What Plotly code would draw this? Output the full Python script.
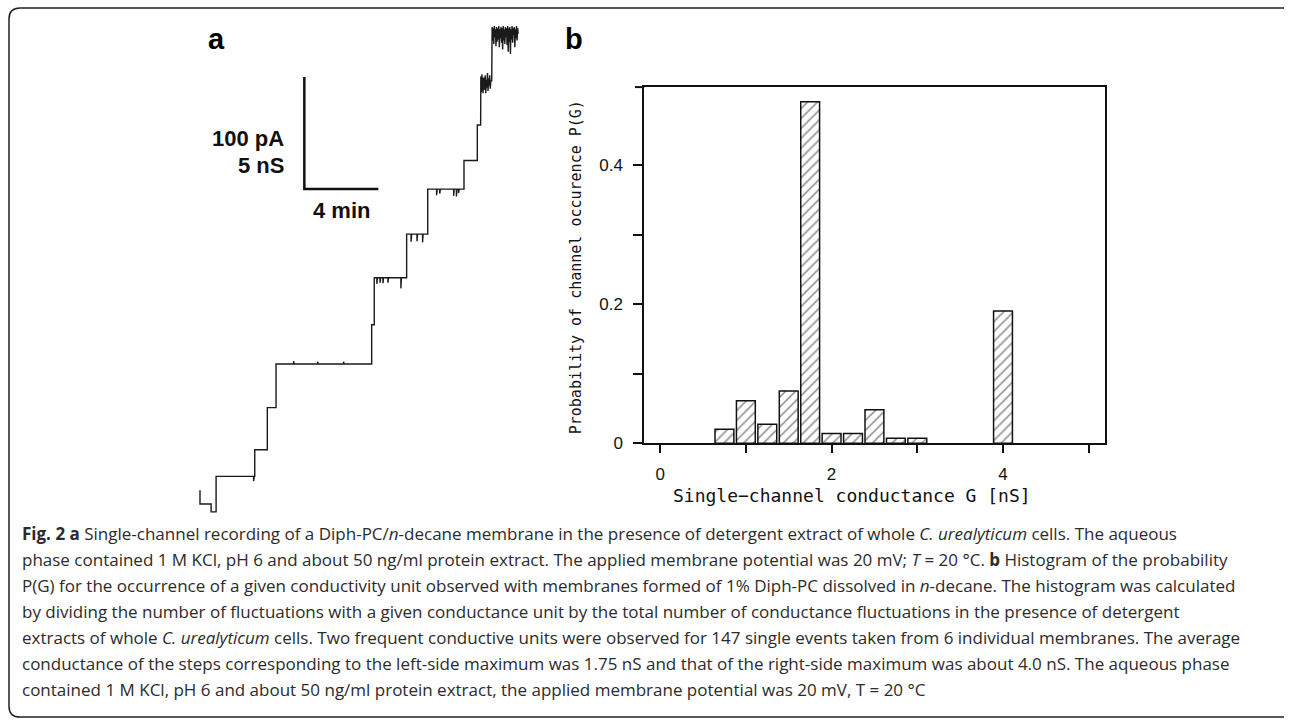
import plotly.graph_objects as go

W, H = 1290, 728

# ---------------- Panel b: histogram data ----------------
g_centers = [0.75, 1.0, 1.25, 1.5, 1.75, 2.0, 2.25, 2.5, 2.75, 3.0, 4.0]
p_values = [0.020, 0.061, 0.027, 0.075, 0.491, 0.014, 0.014, 0.048, 0.007, 0.007, 0.190]
x_tick_vals = [0, 1, 2, 3, 4, 5]
x_tick_text = ["0", "", "2", "", "4", ""]
y_tick_vals = [0, 0.1, 0.2, 0.3, 0.4]
y_tick_text = ["0", "", "0.2", "", "0.4"]

# ---------------- Panel a: single-channel recording (time in min, current in pA) ----------------
trace_min = [
    0.54, 0.54, 1.14, 1.14, 1.41, 1.41,
    3.44, 3.44, 3.47, 3.47, 3.50, 3.50, 4.18, 4.18, 4.65, 4.65,
    5.60, 5.60, 5.63, 5.63, 6.90, 6.90, 6.93, 6.93, 8.30, 8.30, 8.33, 8.33,
    9.82, 9.82, 9.96, 9.96,
    10.10, 10.10, 10.13, 10.13, 10.27, 10.27, 10.30, 10.30, 10.43, 10.43, 10.46, 10.46,
    10.70, 10.70, 10.73, 10.73, 11.40, 11.40, 11.43, 11.43,
    11.71, 11.71,
    11.95, 11.95, 11.98, 11.98, 12.27, 12.27, 12.30, 12.30, 12.57, 12.57, 12.60, 12.60,
    12.85, 12.85,
    13.33, 13.33, 13.36, 13.36, 13.50, 13.50, 13.53, 13.53, 14.25, 14.25, 14.28, 14.28,
    14.40, 14.40, 14.43, 14.43, 14.52, 14.52, 14.55, 14.55,
    14.81, 14.81, 15.53, 15.53, 15.71, 15.71,
    15.72, 15.75, 15.78, 15.81, 15.84, 15.87, 15.90, 15.93, 15.96, 15.99,
    16.02, 16.05, 16.08, 16.11, 16.14, 16.17, 16.20, 16.23, 16.26,
    16.31, 16.31,
    16.33, 16.36, 16.39, 16.42, 16.45, 16.48, 16.51, 16.54, 16.57, 16.60,
    16.63, 16.66, 16.69, 16.72, 16.75, 16.78, 16.81, 16.84, 16.87, 16.90,
    16.93, 16.96, 16.99, 17.02, 17.05, 17.08, 17.11, 17.14, 17.17, 17.20,
    17.23, 17.26, 17.29, 17.32, 17.35, 17.38, 17.41, 17.44, 17.47, 17.50,
    17.53, 17.56, 17.59, 17.62, 17.65, 17.68, 17.71, 17.74,
]
trace_pA = [
    29.0, 16.7, 16.7, 9.7, 9.7, 41.3,
    41.3, 37.0, 37.0, 41.3, 41.3, 65.1, 65.1, 102.6, 102.6, 141.6,
    141.6, 144.0, 144.0, 141.6, 141.6, 143.5, 143.5, 141.6, 141.6, 143.5, 143.5, 141.6,
    141.6, 176.5, 176.5, 218.4,
    218.4, 213.0, 213.0, 218.4, 218.4, 214.0, 214.0, 218.4, 218.4, 213.5, 213.5, 218.4,
    218.4, 214.0, 214.0, 218.4, 218.4, 209.0, 209.0, 218.4,
    218.4, 257.4,
    257.4, 250.5, 250.5, 257.4, 257.4, 251.0, 251.0, 257.4, 257.4, 250.0, 250.0, 257.4,
    257.4, 297.5,
    297.5, 292.0, 292.0, 297.5, 297.5, 293.5, 293.5, 297.5, 297.5, 291.5, 291.5, 297.5,
    297.5, 291.0, 291.0, 297.5, 297.5, 294.0, 294.0, 297.5,
    297.5, 323.0, 323.0, 354.7, 354.7, 395.0,
    398, 384, 400, 389, 383, 397, 386, 392, 399, 383,
    395, 388, 401, 385, 396, 390, 399, 387, 394,
    394, 441,
    442, 430, 441, 427, 443, 433, 440, 425, 442, 429,
    441, 431, 443, 424, 440, 432, 442, 428, 441, 422,
    443, 430, 440, 427, 442, 433, 441, 426, 443, 420,
    441, 429, 442, 418, 440, 431, 443, 428, 441, 435,
    442, 424, 440, 432, 443, 430, 441, 436,
]

# scale bar (100 pA vertical, 4 min horizontal)
scale_min = [6.18, 6.18, 10.18]
scale_pA = [397.5, 297.5, 297.5]

caption_lines = [
    "<b>Fig. 2 a</b> Single-channel recording of a Diph-PC/<i>n</i>-decane membrane in the presence of detergent extract of whole <i>C. urealyticum</i> cells. The aqueous",
    "phase contained 1 M KCl, pH 6 and about 50 ng/ml protein extract. The applied membrane potential was 20 mV; <i>T</i> = 20 °C. <b>b</b> Histogram of the probability",
    "P(G) for the occurrence of a given conductivity unit observed with membranes formed of 1% Diph-PC dissolved in <i>n</i>-decane. The histogram was calculated",
    "by dividing the number of fluctuations with a given conductance unit by the total number of conductance fluctuations in the presence of detergent",
    "extracts of whole <i>C. urealyticum</i> cells. Two frequent conductive units were observed for 147 single events taken from 6 individual membranes. The average",
    "conductance of the steps corresponding to the left-side maximum was 1.75 nS and that of the right-side maximum was about 4.0 nS. The aqueous phase",
    "contained 1 M KCl, pH 6 and about 50 ng/ml protein extract, the applied membrane potential was 20 mV, T = 20 °C",
]
caption_y = [541, 567, 594, 620, 646, 673, 699]


def fx(x):
    return x / W


def fy(y):
    return 1 - y / H


fig = go.Figure()

fig.add_trace(go.Bar(
    x=g_centers, y=p_values, width=0.22,
    marker=dict(color="white", line=dict(color="#111", width=1.5),
                pattern=dict(shape="/", fgcolor="#111", bgcolor="white", size=7, solidity=0.22)),
    xaxis="x", yaxis="y", showlegend=False, hoverinfo="skip",
))

fig.add_trace(go.Scatter(
    x=trace_min, y=trace_pA, mode="lines", line=dict(color="#1a1a1a", width=1.4),
    xaxis="x2", yaxis="y2", showlegend=False, hoverinfo="skip",
))
fig.add_trace(go.Scatter(
    x=scale_min, y=scale_pA, mode="lines", line=dict(color="#111", width=2.5),
    xaxis="x2", yaxis="y2", showlegend=False, hoverinfo="skip",
))

axis_font = dict(family="Liberation Sans, Arial, sans-serif", size=17, color="#111")

fig.update_layout(
    width=W, height=H, autosize=False,
    margin=dict(l=0, r=0, t=0, b=0),
    paper_bgcolor="white", plot_bgcolor="rgba(0,0,0,0)",
    xaxis=dict(domain=[fx(644.3), fx(1105)], range=[-0.185, 5.19],
               tickvals=x_tick_vals, ticktext=x_tick_text, ticks="outside", ticklen=8,
               tickwidth=1.5, tickcolor="#111", showline=True, linewidth=2, linecolor="#111",
               mirror=True, showgrid=False, zeroline=False, tickfont=axis_font, anchor="y",
               ticklabelstandoff=6),
    yaxis=dict(domain=[fy(449.3), fy(88.3)], range=[0, 0.512],
               tickvals=y_tick_vals, ticktext=y_tick_text, ticks="outside", ticklen=9,
               tickwidth=1.5, tickcolor="#111", showline=True, linewidth=2, linecolor="#111",
               mirror=True, showgrid=False, zeroline=False, tickfont=axis_font, anchor="x",
               ticklabelstandoff=7),
    xaxis2=dict(domain=[fx(190), fx(530)], range=[0, 340 / 18.5], visible=False,
                anchor="y2", fixedrange=True),
    yaxis2=dict(domain=[fy(530), 1], range=[0, 530 / 1.137], visible=False,
                anchor="x2", fixedrange=True),
)

ann = []
bold = "Liberation Sans, Arial, sans-serif"
ann.append(dict(text="<b>a</b>", x=fx(216), y=fy(40), xanchor="center", yanchor="middle",
                font=dict(family=bold, size=29, color="#000")))
ann.append(dict(text="<b>b</b>", x=fx(574), y=fy(40), xanchor="center", yanchor="middle",
                font=dict(family=bold, size=29, color="#000")))
ann.append(dict(text="<b>100 pA</b>", x=fx(286), y=fy(140), xanchor="right", yanchor="middle",
                font=dict(family=bold, size=22, color="#111")))
ann.append(dict(text="<b>5 nS</b>", x=fx(286), y=fy(168), xanchor="right", yanchor="middle",
                font=dict(family=bold, size=22, color="#111")))
ann.append(dict(text="<b>4 min</b>", x=fx(341), y=fy(213.5), xanchor="center", yanchor="middle",
                font=dict(family=bold, size=22, color="#111")))
mono = "DejaVu Sans Mono, monospace"
ann.append(dict(text="Single\u2212channel conductance G [nS]", x=fx(852), y=fy(502),
                xanchor="center", yanchor="middle", font=dict(family=mono, size=18, color="#111")))
ann.append(dict(text="Probability of channel occurence P(G)", x=fx(576), y=fy(271),
                xanchor="center", yanchor="middle", textangle=-90,
                font=dict(family=mono, size=15, color="#111")))
for line, yy in zip(caption_lines, caption_y):
    ann.append(dict(text=line, x=fx(20), y=fy(yy), xanchor="left", yanchor="middle",
                    font=dict(family="Open Sans, sans-serif", size=17, color="#2b2b2b")))
for a in ann:
    a.update(xref="paper", yref="paper", showarrow=False)
fig.update_layout(annotations=ann)

frame = (f"M {fx(1284)},{fy(8)} L {fx(20)},{fy(8)} Q {fx(9)},{fy(8)} {fx(9)},{fy(19)} "
         f"L {fx(9)},{fy(716)} Q {fx(9)},{fy(727)} {fx(20)},{fy(727)} L {fx(1284)},{fy(727)}")
shapes = [
    dict(type="path", path=frame, xref="paper", yref="paper", line=dict(color="#222", width=1.5)),
    dict(type="line", xref="paper", yref="paper", x0=fx(635), x1=fx(644.3), y0=fy(88.3), y1=fy(88.3),
         line=dict(color="#111", width=2)),
]
fig.update_layout(shapes=shapes)

fig.write_html("out.html")
